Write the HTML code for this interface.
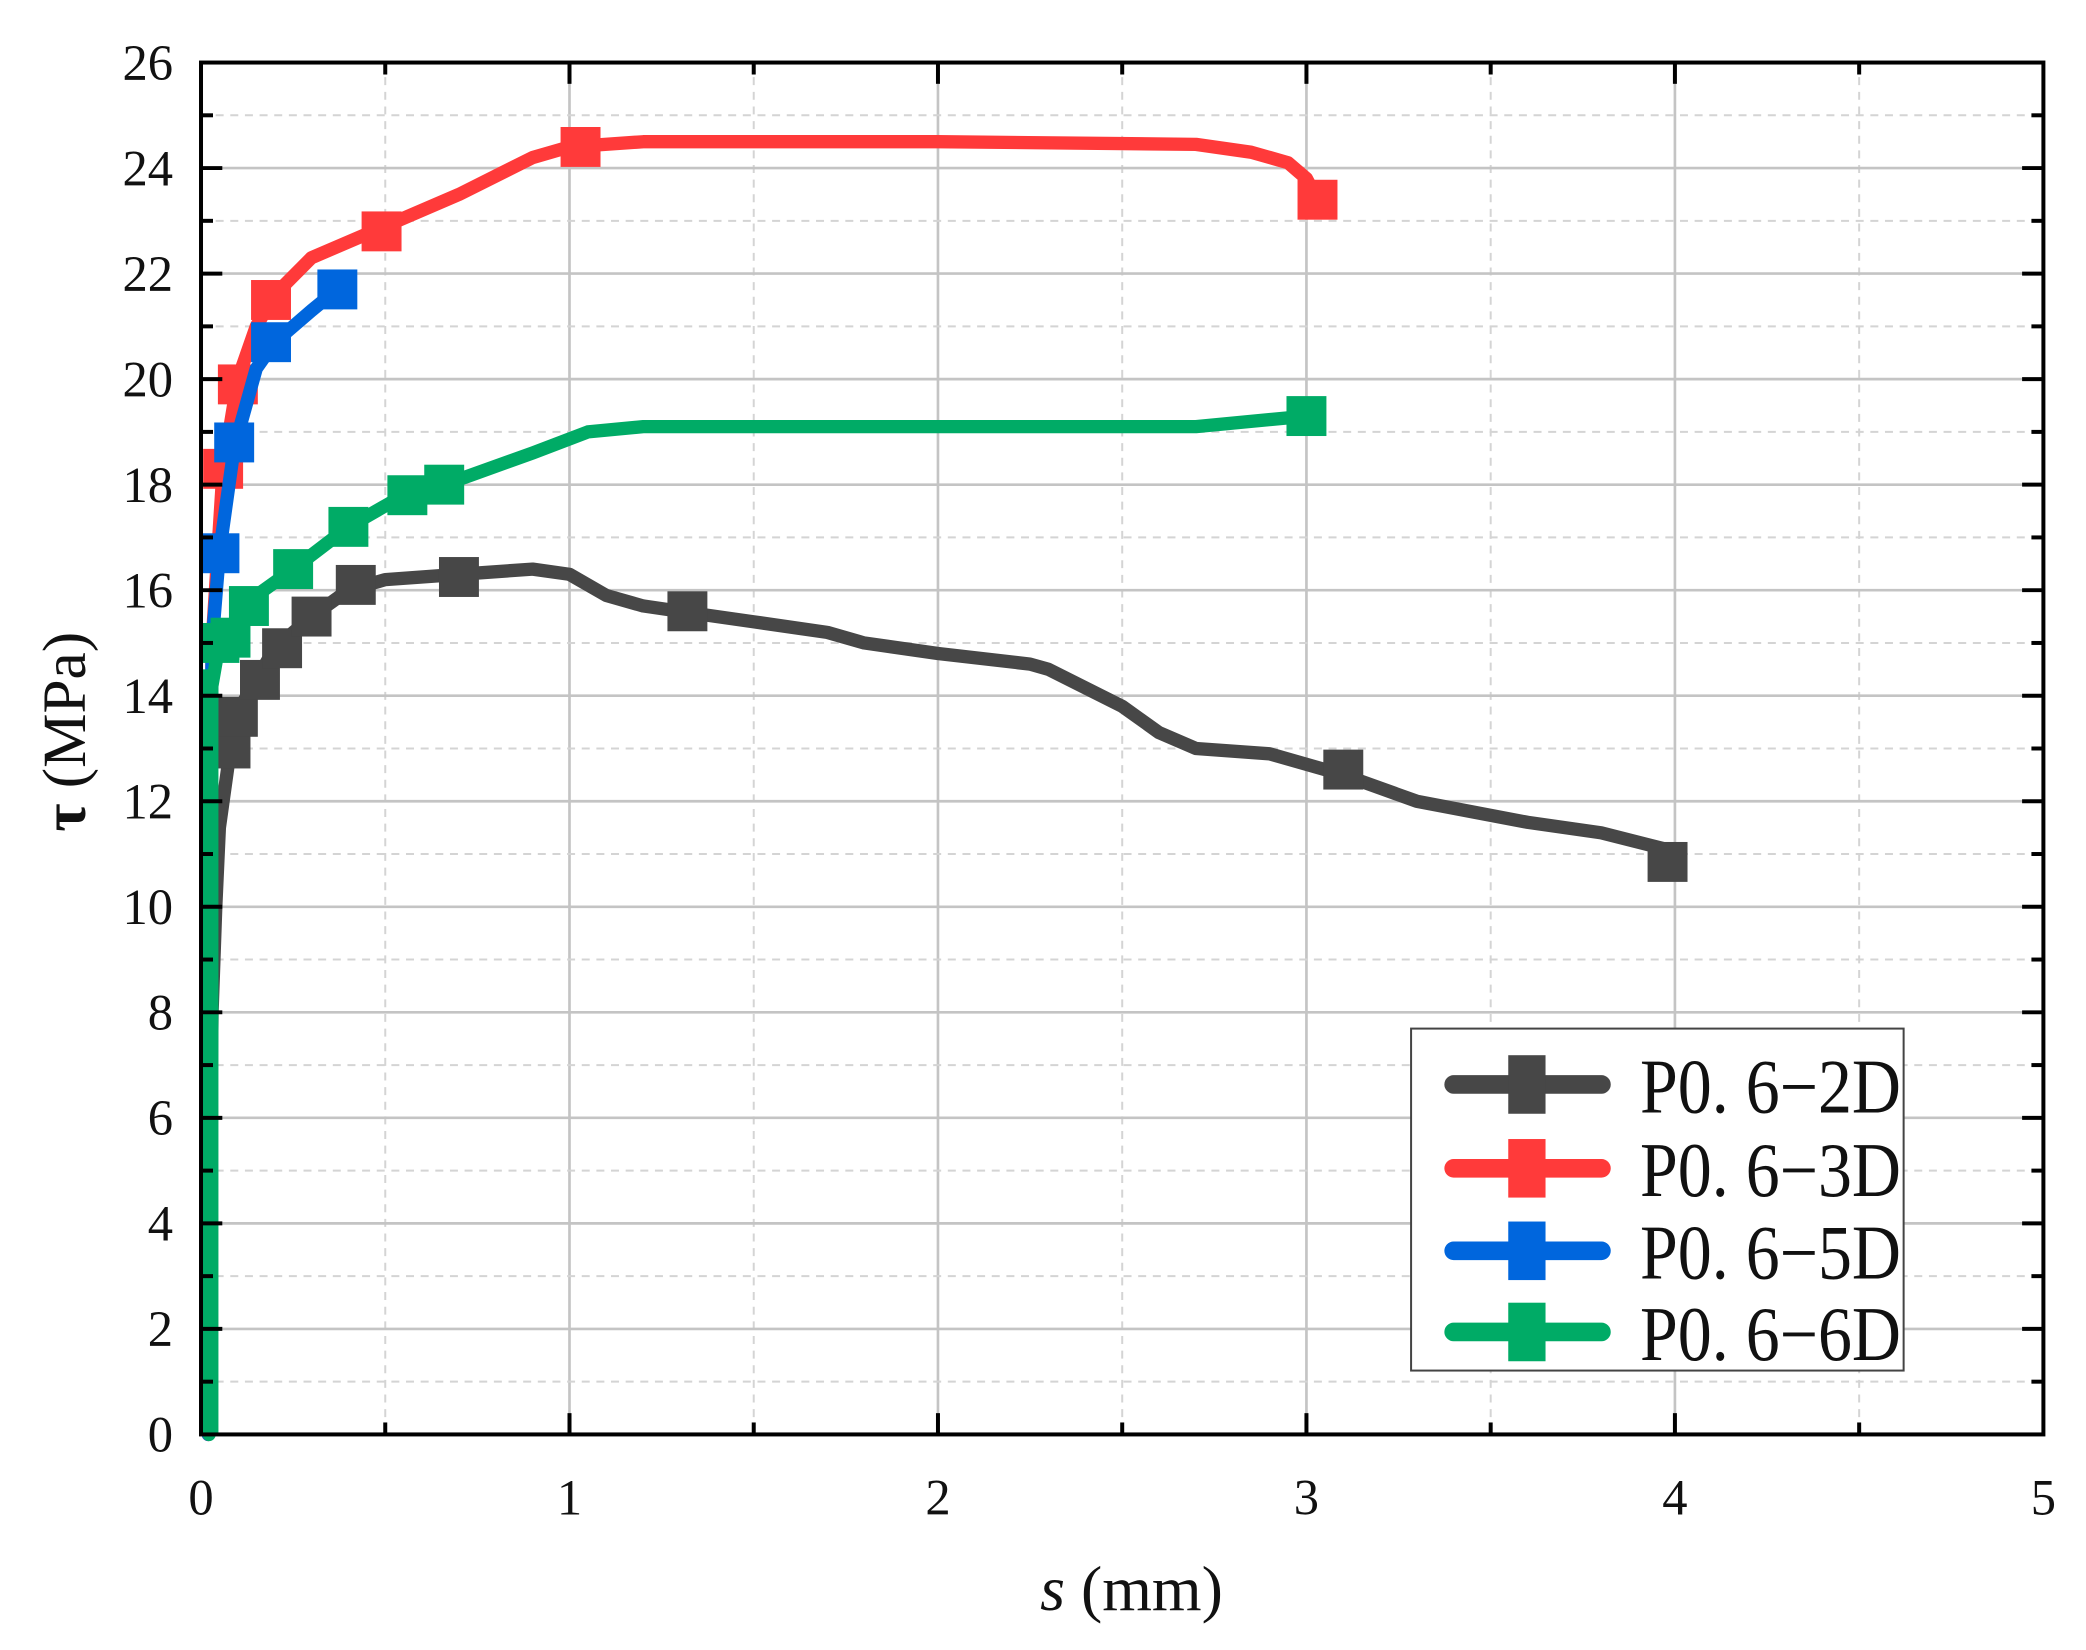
<!DOCTYPE html>
<html><head><meta charset="utf-8"><style>html,body{margin:0;padding:0;background:#fff}svg{display:block}</style></head>
<body>
<svg id="c" width="2086" height="1650" viewBox="0 0 1567 1240" preserveAspectRatio="none" xmlns="http://www.w3.org/2000/svg">
<rect width="1567" height="1240" fill="#fff"/>
<g id="grid"></g>
<g id="series"></g>
<rect x="151" y="47" width="1384" height="1031" fill="none" stroke="#000" stroke-width="3"/>
<g id="ticks" stroke="#000" stroke-width="3"></g>
<g id="labels" font-family="Liberation Serif, serif" font-size="38" fill="#111"></g>
<text x="0" y="0" transform="translate(64,550) rotate(-90)" text-anchor="middle" font-family="Liberation Serif, serif" font-size="46" fill="#111"><tspan font-weight="bold">τ</tspan> (MPa)</text>
<text x="850" y="1210" text-anchor="middle" font-family="Liberation Serif, serif" font-size="48" fill="#111"><tspan font-style="italic">s</tspan> (mm)</text>
<rect x="1060" y="773" width="370" height="257" fill="#fff" stroke="#444" stroke-width="1.5"/>
<g id="legend"></g>
</svg>
<script>
var ns="http://www.w3.org/2000/svg";
function el(p,t,a,txt){var e=document.createElementNS(ns,t);for(var k in a)e.setAttribute(k,a[k]);if(txt!==undefined)e.textContent=txt;p.appendChild(e);return e;}
function X(s){return 151+s*276.8;}function Y(t){return 1078-t*39.654;}
var G=document.getElementById('grid'),T=document.getElementById('ticks'),L=document.getElementById('labels');
for(var i=1;i<10;i++){var x=X(i*0.5);el(G,'line',{x1:x,x2:x,y1:47,y2:1078,stroke:i%2?'#d4d4d4':'#c4c4c4','stroke-width':i%2?1.5:2,'stroke-dasharray':i%2?'6,5':''});
 el(T,'line',{x1:x,x2:x,y1:1078,y2:1078-(i%2?9:16)});el(T,'line',{x1:x,x2:x,y1:47,y2:47+(i%2?9:16)});}
for(var j=1;j<26;j++){var y=Y(j);el(G,'line',{x1:151,x2:1535,y1:y,y2:y,stroke:j%2?'#d4d4d4':'#c4c4c4','stroke-width':j%2?1.5:2,'stroke-dasharray':j%2?'6,5':''});
 el(T,'line',{x1:151,x2:151+(j%2?9:16),y1:y,y2:y});el(T,'line',{x1:1535,x2:1535-(j%2?9:16),y1:y,y2:y});}
for(var j=0;j<=26;j+=2)el(L,'text',{x:130,y:Y(j)+13,'text-anchor':'end'},String(j));
for(var i=0;i<=5;i++)el(L,'text',{x:X(i),y:1138,'text-anchor':'middle'},String(i));
var S=document.getElementById('series');
var data=[
['#474747',[[0.02,0],[0.025,5],[0.03,8],[0.04,10],[0.05,11.5],[0.08,13],[0.1,13.7],[0.15,14.3],[0.2,14.9],[0.3,15.5],[0.4,16],[0.5,16.2],[0.7,16.3],[0.9,16.4],[1.0,16.3],[1.1,15.9],[1.2,15.7],[1.3,15.6],[1.5,15.4],[1.7,15.2],[1.8,15.0],[2.0,14.8],[2.25,14.6],[2.3,14.5],[2.5,13.8],[2.6,13.3],[2.7,13.0],[2.9,12.9],[3.1,12.5],[3.3,12.0],[3.6,11.6],[3.8,11.4],[3.97,11.1]],
 [[0.08,13],[0.1,13.6],[0.16,14.3],[0.22,14.9],[0.3,15.5],[0.42,16.1],[0.7,16.25],[1.32,15.6],[3.1,12.6],[3.98,10.85]]],
['#ff3a3a',[[0.02,0],[0.02,2],[0.025,10],[0.03,15],[0.06,18.3],[0.1,20],[0.15,21],[0.2,21.6],[0.3,22.3],[0.5,22.9],[0.7,23.5],[0.9,24.2],[1.0,24.4],[1.2,24.5],[2.0,24.5],[2.7,24.45],[2.85,24.3],[2.95,24.1],[3.0,23.8],[3.03,23.4]],
 [[0.06,18.3],[0.1,19.9],[0.19,21.5],[0.49,22.8],[1.03,24.4],[3.03,23.4]]],
['#0066dd',[[0.02,0],[0.02,6],[0.025,10],[0.03,15],[0.05,16.7],[0.09,18.7],[0.15,20.2],[0.2,20.7],[0.3,21.3],[0.37,21.7]],
 [[0.05,16.7],[0.09,18.8],[0.19,20.7],[0.37,21.7]]],
['#00ab66',[[0.022,0],[0.022,10],[0.025,14],[0.05,15],[0.13,15.8],[0.25,16.4],[0.4,17.2],[0.55,17.8],[0.7,18.1],[0.9,18.6],[1.05,19],[1.2,19.1],[2.7,19.1],[3.0,19.3]],
 [[0.05,15.0],[0.08,15.1],[0.13,15.7],[0.25,16.4],[0.4,17.2],[0.56,17.8],[0.66,18.0],[3.0,19.3]]]
];
data.forEach(function(d){
 var p=d[1].map(function(q){return X(q[0]).toFixed(1)+','+Y(q[1]).toFixed(1);}).join(' L');
 el(S,'path',{d:'M'+p,fill:'none',stroke:d[0],'stroke-width':10,'stroke-linejoin':'round','stroke-linecap':'round'});
 d[2].forEach(function(q){el(S,'rect',{x:X(q[0])-15,y:Y(q[1])-15,width:30,height:30,fill:d[0]});});
});
el(S,'rect',{x:X(0.022)-7,y:Y(14.5),width:14,height:Y(0)-Y(14.5),fill:'#00ab66'});
var LG=document.getElementById('legend');var names=['P0. 6−2D','P0. 6−3D','P0. 6−5D','P0. 6−6D'],ys=[815,878,940,1001];
data.forEach(function(d,i){var y=ys[i];
 el(LG,'line',{x1:1092,x2:1203,y1:y,y2:y,stroke:d[0],'stroke-width':14,'stroke-linecap':'round'});
 el(LG,'rect',{x:1133,y:y-22,width:28,height:44,fill:d[0]});
 el(LG,'text',{x:1232,y:y+21,'font-family':'Liberation Serif, serif','font-size':58,fill:'#111',textLength:196,lengthAdjust:'spacingAndGlyphs'},names[i]);
});
</script>
</body></html>
